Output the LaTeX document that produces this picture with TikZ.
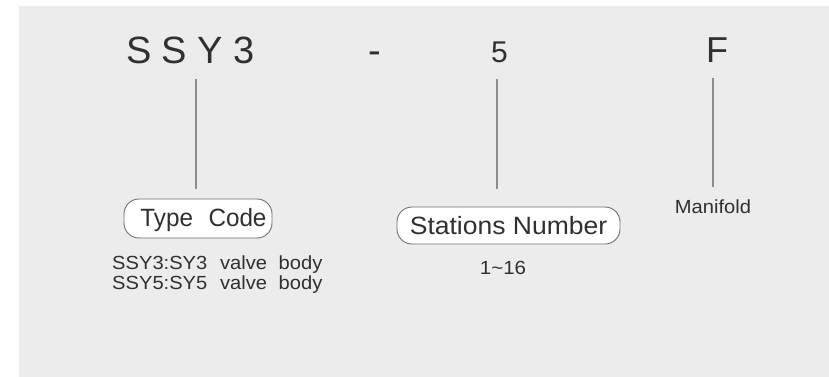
\documentclass[tikz,border=0pt]{standalone}
\usepackage{fontspec}
\usepackage{graphicx}
\setmainfont{Liberation Sans}
\definecolor{bggray}{HTML}{ECECEC}
\definecolor{txt}{HTML}{303030}
\definecolor{lin}{HTML}{8C8C8C}
\definecolor{boxline}{HTML}{707070}
\begin{document}
\begin{tikzpicture}[x=1pt,y=-1pt,
  big/.style={inner sep=0pt,anchor=base,text=txt},
  small/.style={inner sep=0pt,text=txt,font=\fontsize{19}{21}\selectfont},
  pill/.style={draw=boxline,line width=0.9pt,fill=white,rounded corners=15pt,inner sep=0pt},
  lead/.style={draw=lin,line width=1.3pt}]
\useasboundingbox (0,0) rectangle (829,377);
\fill[white] (0,0) rectangle (829,377);
\fill[bggray] (19,6) rectangle (829,377);
% top code
\node[big,font=\fontsize{38}{40}\selectfont] (code) at (190.5,64) {S S Y 3};
\node[big,font=\fontsize{38}{40}\selectfont] (dash) at (375,64) {-};
\node[big,font=\fontsize{30}{32}\selectfont] (five) at (499.5,63) {5};
\node[big,font=\fontsize{36}{38}\selectfont] (eff) at (717,63) {F};
% leader lines
\coordinate (t1) at (196,79); \coordinate (b1) at (196,189);
\coordinate (t2) at (497,79); \coordinate (b2) at (497,189);
\coordinate (t3) at (713,78); \coordinate (b3) at (713,187);
\draw[lead] (t1) -- (b1);
\draw[lead] (t2) -- (b2);
\draw[lead] (t3) -- (b3);
% boxes
\node[pill,minimum width=148pt,minimum height=39pt] (typebox) at (198,218.5) {};
\node[big,font=\fontsize{25}{27}\selectfont] (typetxt) at (203.5,226.5) {\scalebox{0.97}[1]{Type\hspace{9pt} Code}};
\node[pill,minimum width=223pt,minimum height=37pt] (statbox) at (508.5,225.5) {};
\node[big,font=\fontsize{25}{27}\selectfont] (stattxt) at (508.5,234.5) {\scalebox{1.06}[1]{Stations Number}};
% descriptions
\node[small,anchor=base] (mani) at (713,213) {\scalebox{1.06}[1]{Manifold}};
\node[small,anchor=base] (range) at (503,274) {\scalebox{1.08}[1]{1\char"007E 16}};
\node[small,anchor=base west] (l1) at (112,269.5) {\scalebox{1.06}[1]{SSY3:SY3\hspace{12pt}valve\hspace{11pt}body}};
\node[small,anchor=base west] (l2) at (112,289.5) {\scalebox{1.06}[1]{SSY5:SY5\hspace{12pt}valve\hspace{11pt}body}};
\end{tikzpicture}
\end{document}
